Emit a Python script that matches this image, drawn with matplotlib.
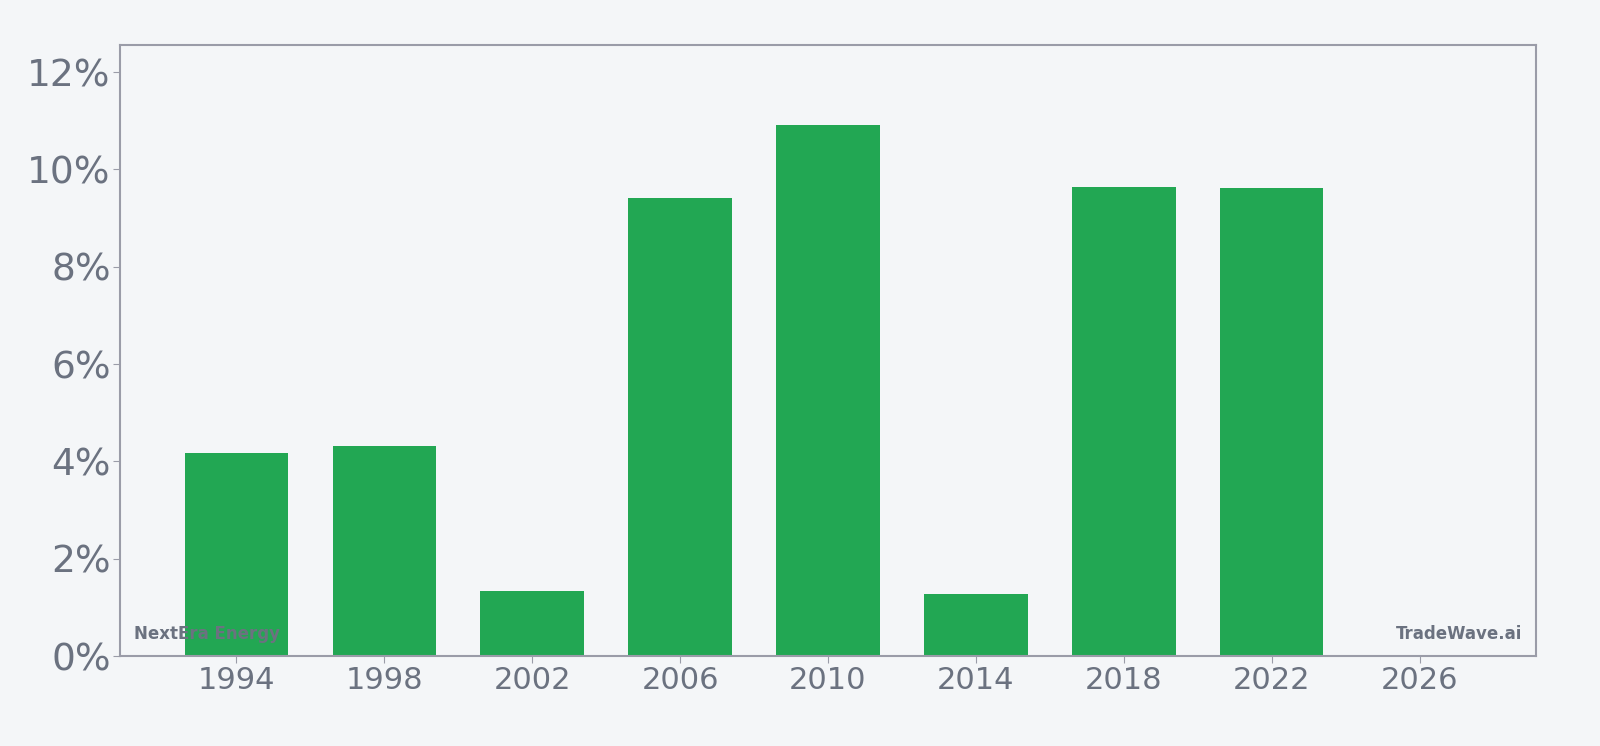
import matplotlib.pyplot as plt
from matplotlib.ticker import FuncFormatter

# Données
years = [1994, 1998, 2002, 2006, 2010, 2014, 2018, 2022]
values = [4.18, 4.31, 1.34, 9.41, 10.92, 1.28, 9.64, 9.62]
xticks = [1994, 1998, 2002, 2006, 2010, 2014, 2018, 2022, 2026]

bg = '#f4f6f8'
green = '#22a753'
gray = '#6b7280'
spine = '#9a9ca8'

fig = plt.figure(figsize=(16, 7.46), dpi=100, facecolor=bg)
ax = fig.add_axes([0.075, 0.1206, 0.885, 0.8191], facecolor=bg)

# Barres
ax.bar(years, values, width=2.8, color=green, zorder=2)

# Axes
ax.set_xlim(1990.85, 2029.15)
ax.set_ylim(0, max(values) * 1.15)
ax.set_xticks(xticks)
ax.set_yticks([0, 2, 4, 6, 8, 10, 12])
ax.yaxis.set_major_formatter(FuncFormatter(lambda v, p: f"{v:.0f}%"))
ax.tick_params(axis='x', labelsize=22, colors=spine, labelcolor=gray, length=5, pad=2.5)
ax.tick_params(axis='y', labelsize=27, colors=spine, labelcolor=gray, length=5, pad=1.6)

for s in ax.spines.values():
    s.set_color(spine)
    s.set_linewidth(1.5)

# Filigranes
ax.text(0.01, 0.022, "NextEra Energy", transform=ax.transAxes, fontsize=12,
        fontweight='bold', color=gray, ha='left', va='bottom', zorder=3)
ax.text(0.99, 0.022, "TradeWave.ai", transform=ax.transAxes, fontsize=12,
        fontweight='bold', color=gray, ha='right', va='bottom', zorder=3)

fig.savefig("out.png", dpi=100, facecolor=bg)
